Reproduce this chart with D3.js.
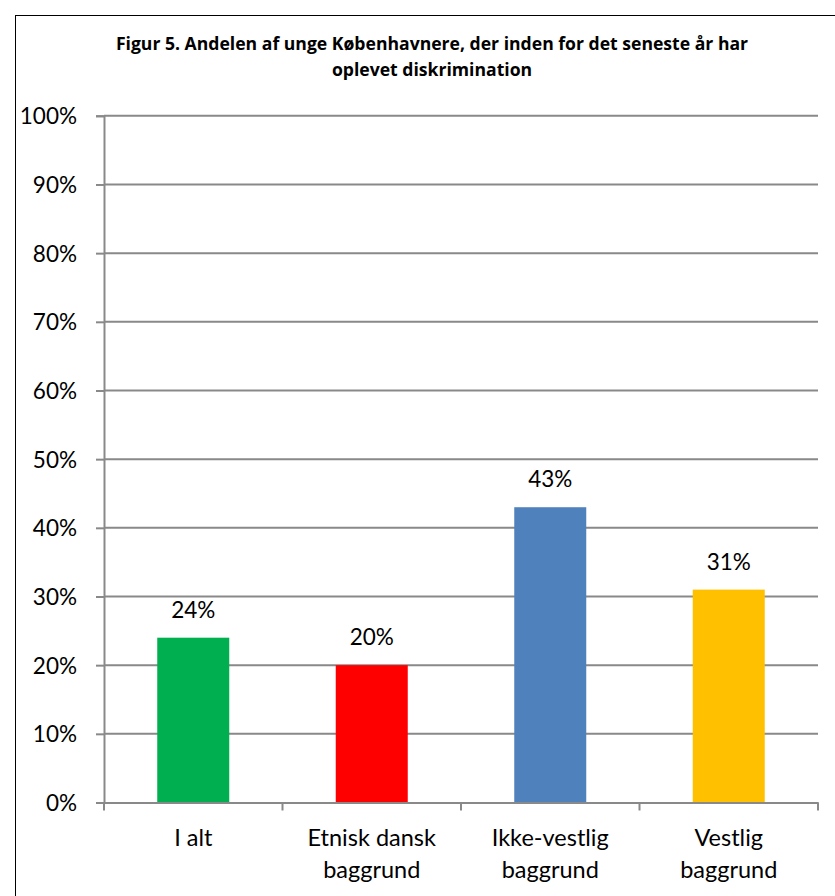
<!DOCTYPE html>
<html><head><meta charset="utf-8">
<script src="https://cdn.jsdelivr.net/npm/d3@7"></script>
<style>body{margin:0;background:#fff}svg{display:block}text{font-family:Lato,"Open Sans",sans-serif;fill:#000}</style>
</head><body>
<svg id="c" width="835" height="896"></svg>
<script>
const categories = [["I alt"], ["Etnisk dansk","baggrund"], ["Ikke-vestlig","baggrund"], ["Vestlig","baggrund"]];
const values = [24, 20, 43, 31];
const colors = ["#00B050", "#FF0000", "#4F81BD", "#FFC000"];
const yTicks = [0,10,20,30,40,50,60,70,80,90,100];
const titleLines = ["Figur 5. Andelen af unge Københavnere, der inden for det seneste år har", "oplevet diskrimination"];

const svg = d3.select("#c");
svg.append("rect").attr("x",15.5).attr("y",15.5).attr("width",830).attr("height",890).attr("fill","none").attr("stroke","#000").attr("stroke-width",1);

const m = {left:104, right:818, top:115.8, bottom:802.5};
const idx = categories.map((d,i)=>i);
const x = d3.scaleBand().domain(idx).range([m.left,m.right]).paddingInner(0).paddingOuter(0);
const y = d3.scaleLinear().domain([0,100]).range([m.bottom,m.top]);

// gridlines
svg.append("g").selectAll("line").data(yTicks.filter(t=>t>0)).join("line")
  .attr("x1",m.left).attr("x2",m.right).attr("y1",d=>y(d)).attr("y2",d=>y(d))
  .attr("stroke","#898989").attr("stroke-width",2);

// y axis
const ya = svg.append("g").attr("transform",`translate(${m.left},0)`)
  .call(d3.axisLeft(y).tickValues(yTicks).tickFormat(d=>d+"%").tickSize(8).tickPadding(19));
ya.select(".domain").attr("stroke","#898989").attr("stroke-width",2);
ya.selectAll(".tick line").attr("stroke","#898989").attr("stroke-width",2);
ya.selectAll(".tick text").style("font-size","22.5px").attr("fill","#000").attr("dy","0.36em");

// bars
const bw = 72;
svg.append("g").selectAll("rect").data(values).join("rect")
  .attr("x",(d,i)=>x(i)+x.bandwidth()/2-bw/2).attr("width",bw)
  .attr("y",d=>y(d)).attr("height",d=>y(0)-y(d)).attr("fill",(d,i)=>colors[i]);

// x axis
const xa = svg.append("g").attr("transform",`translate(0,${m.bottom})`)
  .call(d3.axisBottom(x).tickFormat("").tickSize(0));
xa.select(".domain").attr("stroke","#898989").attr("stroke-width",2);
xa.selectAll(".tick").remove();
const bounds = [m.left].concat(idx.map(i=>x(i)+x.bandwidth()));
xa.selectAll(".bt").data(bounds).join("line").attr("class","bt")
  .attr("x1",d=>d).attr("x2",d=>d).attr("y1",0).attr("y2",8).attr("stroke","#898989").attr("stroke-width",2);

// category labels
const cl = svg.append("g").selectAll("text").data(categories).join("text")
  .attr("x",(d,i)=>x(i)+x.bandwidth()/2).attr("y",845.5).attr("text-anchor","middle").style("font-size","23.5px");
cl.selectAll("tspan").data(d=>d).join("tspan").attr("x",function(){return this.parentNode.getAttribute("x");})
  .attr("dy",(d,j)=>j?"32.5px":0).text(d=>d);

// value labels
svg.append("g").selectAll("text").data(values).join("text")
  .attr("x",(d,i)=>x(i)+x.bandwidth()/2).attr("y",d=>y(d)-20).attr("text-anchor","middle")
  .style("font-size","22.5px").text(d=>d+"%");

// title
svg.append("g").selectAll("text").data(titleLines).join("text")
  .attr("x",432).attr("y",(d,i)=>50+i*25.5).attr("text-anchor","middle")
  .style("font-family","'Open Sans',sans-serif")
  .style("font-size","17.6px").style("font-weight","bold").text(d=>d);
</script>
</body></html>
